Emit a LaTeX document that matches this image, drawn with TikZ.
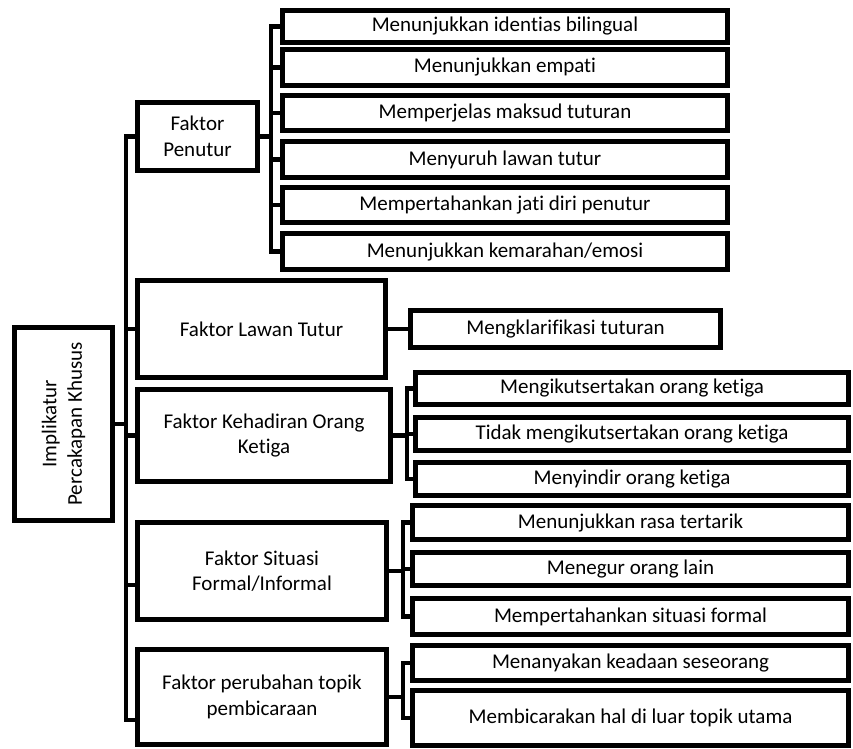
\documentclass[tikz,border=0pt]{standalone}
\usepackage{fontspec}
\setmainfont[Ligatures=NoCommon]{Carlito}
\begin{document}
\begin{tikzpicture}[x=1pt,y=-1pt,
  box/.style={draw, line width=4.5pt, inner sep=0pt, align=center,
    font=\fontsize{21}{25.5}\selectfont},
  conn/.style={line width=4.5pt}]
\useasboundingbox (0,0) rectangle (853,748);
% root
\node[box, minimum width=98, minimum height=193] (root) at (63.5,424) {};
\node[rotate=90, align=center, inner sep=0pt, font=\fontsize{21}{25.5}\selectfont] (roottxt) at (root.center) {Implikatur\\Percakapan Khusus};
% factors
\node[box, minimum width=120, minimum height=68] (pen) at (197.5,136.5) {Faktor\\Penutur};
\node[box, minimum width=248, minimum height=97] (law) at (261.5,329) {Faktor Lawan Tutur};
\node[box, minimum width=253, minimum height=92] (keh) at (264,435.5) {Faktor Kehadiran Orang\\Ketiga};
\node[box, minimum width=249, minimum height=97] (sit) at (262,571) {Faktor Situasi\\Formal/Informal};
\node[box, minimum width=249, minimum height=95] (top) at (262,697) {Faktor perubahan topik\\pembicaraan};
% Penutur children
\node[box, minimum width=445, minimum height=32] (p1) at (505,26.5) {Menunjukkan identias bilingual};
\node[box, minimum width=445, minimum height=36] (p2) at (505,67.5) {Menunjukkan empati};
\node[box, minimum width=445, minimum height=35] (p3) at (505,113) {Memperjelas maksud tuturan};
\node[box, minimum width=445, minimum height=36] (p4) at (505,159.5) {Menyuruh lawan tutur};
\node[box, minimum width=445, minimum height=35] (p5) at (505,205) {Mempertahankan jati diri penutur};
\node[box, minimum width=445, minimum height=36] (p6) at (505,251.5) {Menunjukkan kemarahan/emosi};
% Lawan child
\node[box, minimum width=310, minimum height=37] (l1) at (565.5,329) {Mengklarifikasi tuturan};
% Kehadiran children
\node[box, minimum width=433, minimum height=32] (k1) at (632,388.5) {Mengikutsertakan orang ketiga};
\node[box, minimum width=433, minimum height=33] (k2) at (632,434) {Tidak mengikutsertakan orang ketiga};
\node[box, minimum width=433, minimum height=33] (k3) at (632,479) {Menyindir orang ketiga};
% Situasi children
\node[box, minimum width=436, minimum height=34] (s1) at (630.5,522.5) {Menunjukkan rasa tertarik};
\node[box, minimum width=436, minimum height=33] (s2) at (630.5,569) {Menegur orang lain};
\node[box, minimum width=436, minimum height=36] (s3) at (630.5,616.5) {Mempertahankan situasi formal};
% Topik children
\node[box, minimum width=436, minimum height=35] (t1) at (630.5,663) {Menanyakan keadaan seseorang};
\node[box, minimum width=436, minimum height=55] (t2) at (630.5,718) {Membicarakan hal di luar topik utama};
% bracket x positions and stub points
\coordinate (trunk) at (126,0);
\coordinate (bpen) at (271,0);
\coordinate (bkeh) at (407,0);
\coordinate (bsit) at (403,0);
\coordinate (btop) at (403,0);
\coordinate (sitin) at ([yshift=-14pt]sit.west);
\coordinate (topin) at ([yshift=-23pt]top.west);
% trunk connectors
\draw[conn] (root.east) -| (trunk |- pen.west) -- (pen.west);
\draw[conn] (root.east) -| (trunk |- law.west) -- (law.west);
\draw[conn] (root.east) -| (trunk |- keh.west) -- (keh.west);
\draw[conn] (root.east) -| (trunk |- sitin) -- (sitin);
\draw[conn] (root.east) -| (trunk |- topin) -- (topin);
% Penutur
\foreach \c in {p1,p2,p3,p4,p5,p6}
  \draw[conn] (pen.east) -| (bpen |- \c.west) -- (\c.west);
% Lawan
\draw[conn] (law.east) -- (l1.west);
% Kehadiran
\foreach \c in {k1,k2,k3}
  \draw[conn] (keh.east) -| (bkeh |- \c.west) -- (\c.west);
% Situasi
\foreach \c in {s1,s2,s3}
  \draw[conn] (sit.east) -| (bsit |- \c.west) -- (\c.west);
% Topik
\foreach \c in {t1,t2}
  \draw[conn] (top.east) -| (btop |- \c.west) -- (\c.west);
\end{tikzpicture}
\end{document}
